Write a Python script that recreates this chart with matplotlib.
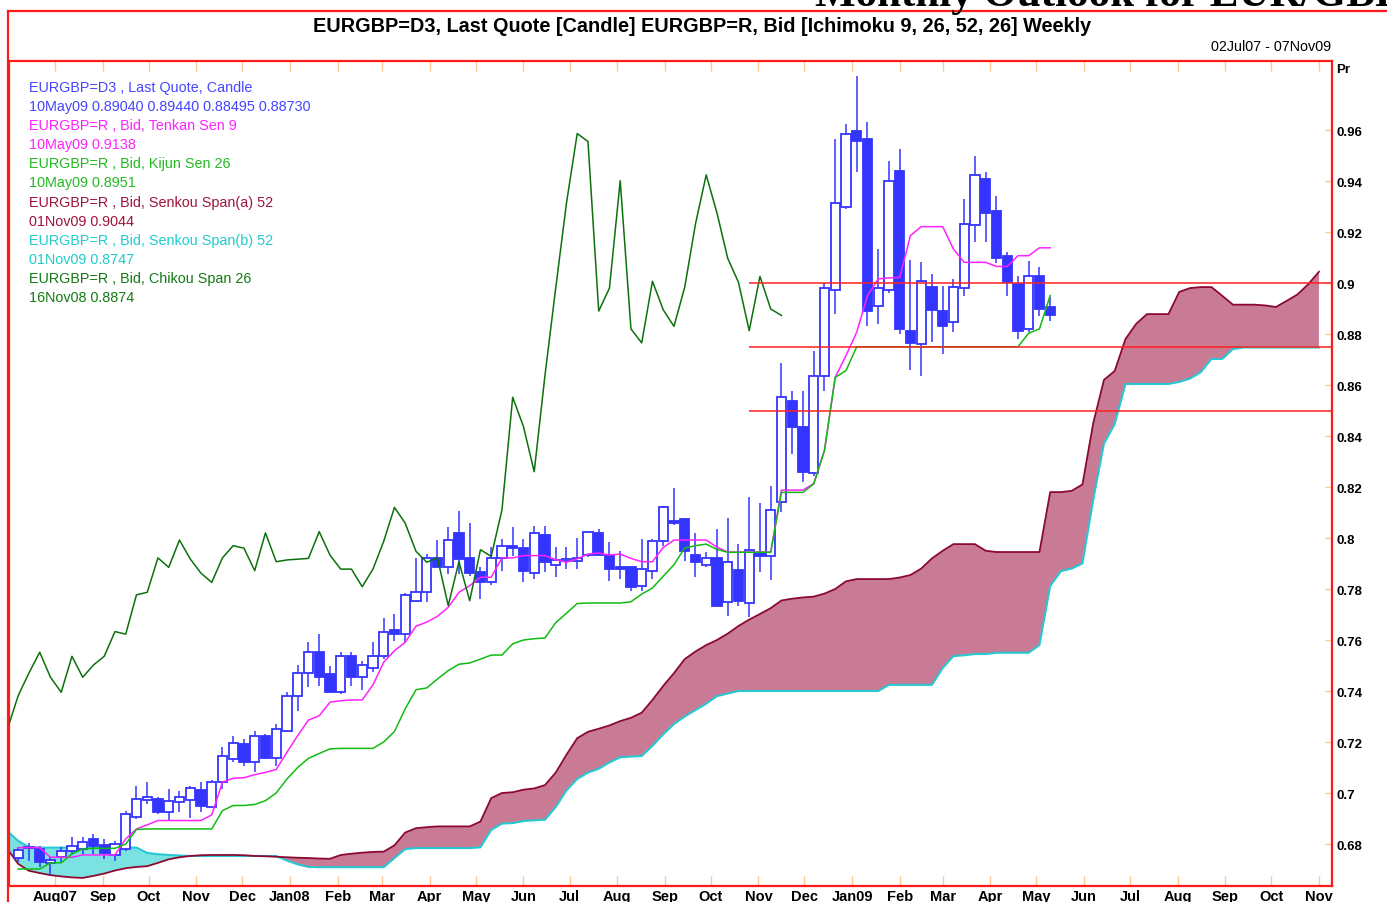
import datetime as dt
import numpy as np
import matplotlib
matplotlib.use("Agg")
import matplotlib.pyplot as plt
import matplotlib.dates as mdates
from matplotlib.lines import Line2D

plt.rcParams['font.family'] = ['Liberation Sans', 'DejaVu Sans']

# ---------------- data ----------------
first_candle = dt.date(2007, 7, 8)      # weekly candles (Sunday dates)
first_cloud = dt.date(2007, 7, 1)       # Senkou spans start one week earlier
chikou_shift_weeks = 25

opens = [0.6745, 0.6787, 0.6781, 0.6726, 0.6748, 0.6774, 0.6781, 0.6820, 0.6796, 0.6757,
         0.6781, 0.6907, 0.6973, 0.6976, 0.6927, 0.6964, 0.6973, 0.7012, 0.6944, 0.7042,
         0.7134, 0.7192, 0.7120, 0.7222, 0.7139, 0.7245, 0.7382, 0.7471, 0.7552, 0.7467,
         0.7395, 0.7536, 0.7456, 0.7489, 0.7536, 0.7640, 0.7623, 0.7754, 0.7787, 0.7922,
         0.7885, 0.8020, 0.7922, 0.7868, 0.7826, 0.7922, 0.7970, 0.7960, 0.7862, 0.8013,
         0.7895, 0.7908, 0.7911, 0.7933, 0.8020, 0.7933, 0.7885, 0.7885, 0.7810, 0.7872,
         0.7987, 0.8068, 0.8075, 0.7934, 0.7896, 0.7922, 0.7750, 0.7876, 0.7745, 0.7940,
         0.7928, 0.8143, 0.8536, 0.8434, 0.8255, 0.8634, 0.8974, 0.9297, 0.9597, 0.9565,
         0.8911, 0.8974, 0.9441, 0.8813, 0.8761, 0.8983, 0.8892, 0.8846, 0.8981, 0.9229,
         0.9408, 0.9284, 0.9107, 0.8996, 0.8820, 0.9029, 0.8904]
highs = [0.6787, 0.6805, 0.6794, 0.6748, 0.6787, 0.6829, 0.6829, 0.6840, 0.6820, 0.6813,
         0.6931, 0.7029, 0.7042, 0.6983, 0.7016, 0.7009, 0.7029, 0.7042, 0.7052, 0.7179,
         0.7225, 0.7212, 0.7245, 0.7232, 0.7271, 0.7398, 0.7502, 0.7594, 0.7624, 0.7500,
         0.7552, 0.7554, 0.7519, 0.7591, 0.7688, 0.7702, 0.7785, 0.7920, 0.7939, 0.7992,
         0.8042, 0.8105, 0.8060, 0.7885, 0.7963, 0.7996, 0.8042, 0.7996, 0.8048, 0.8048,
         0.7963, 0.7963, 0.7999, 0.8029, 0.8035, 0.7983, 0.7950, 0.7885, 0.7996, 0.7996,
         0.8127, 0.8195, 0.8080, 0.8020, 0.7944, 0.8036, 0.8079, 0.7977, 0.8160, 0.8137,
         0.8205, 0.8686, 0.8578, 0.8578, 0.8735, 0.9000, 0.9565, 0.9623, 0.9813, 0.9633,
         0.9133, 0.9480, 0.9525, 0.9092, 0.9081, 0.9035, 0.8990, 0.9016, 0.9329, 0.9497,
         0.9434, 0.9343, 0.9120, 0.9029, 0.9088, 0.9062, 0.8944]
lows = [0.6728, 0.6735, 0.6711, 0.6679, 0.6728, 0.6755, 0.6761, 0.6761, 0.6742, 0.6735,
        0.6774, 0.6898, 0.6957, 0.6918, 0.6892, 0.6924, 0.6901, 0.6924, 0.6944, 0.7016,
        0.7121, 0.7107, 0.7081, 0.7134, 0.7107, 0.7240, 0.7320, 0.7414, 0.7420, 0.7395,
        0.7389, 0.7420, 0.7402, 0.7476, 0.7526, 0.7597, 0.7591, 0.7748, 0.7748, 0.7885,
        0.7859, 0.7859, 0.7852, 0.7761, 0.7816, 0.7872, 0.7931, 0.7829, 0.7839, 0.7865,
        0.7846, 0.7878, 0.7878, 0.7924, 0.7931, 0.7833, 0.7839, 0.7793, 0.7793, 0.7839,
        0.7970, 0.8050, 0.7911, 0.7846, 0.7885, 0.7735, 0.7696, 0.7735, 0.7690, 0.7866,
        0.7837, 0.8103, 0.8330, 0.8221, 0.8245, 0.8578, 0.8880, 0.9290, 0.9434, 0.8833,
        0.8839, 0.8960, 0.8800, 0.8657, 0.8637, 0.8767, 0.8722, 0.8807, 0.8950, 0.9159,
        0.9159, 0.9080, 0.8950, 0.8780, 0.8807, 0.8872, 0.88495]
closes = [0.6776, 0.6783, 0.6731, 0.6739, 0.6774, 0.6794, 0.6809, 0.6791, 0.6765, 0.6800,
          0.6918, 0.6976, 0.6983, 0.6924, 0.6970, 0.6983, 0.7020, 0.6950, 0.7042, 0.7144,
          0.7196, 0.7123, 0.7224, 0.7139, 0.7251, 0.7382, 0.7471, 0.7552, 0.7454, 0.7395,
          0.7536, 0.7454, 0.7502, 0.7536, 0.7633, 0.7623, 0.7777, 0.7787, 0.7922, 0.7885,
          0.7992, 0.7918, 0.7862, 0.7826, 0.7922, 0.7970, 0.7960, 0.7872, 0.8020, 0.7907,
          0.7914, 0.7917, 0.7920, 0.8025, 0.7933, 0.7878, 0.7878, 0.7809, 0.7878, 0.7987,
          0.8120, 0.8058, 0.7948, 0.7905, 0.7922, 0.7735, 0.7907, 0.7754, 0.7954, 0.7928,
          0.8110, 0.8552, 0.8437, 0.8260, 0.8637, 0.8980, 0.9313, 0.9586, 0.9555, 0.8890,
          0.8980, 0.9401, 0.8820, 0.8765, 0.9007, 0.8895, 0.8830, 0.8983, 0.9231, 0.9424,
          0.9275, 0.9097, 0.9003, 0.8813, 0.9026, 0.8898, 0.8873]

tenkan = [0.6786, 0.6786, 0.6786, 0.6748, 0.6748, 0.6748, 0.6757, 0.6757, 0.6757, 0.6757,
          0.6820, 0.6859, 0.6875, 0.6892, 0.6892, 0.6892, 0.6892, 0.6892, 0.6914, 0.7042,
          0.7058, 0.7060, 0.7072, 0.7081, 0.7092, 0.7160, 0.7225, 0.7286, 0.7303, 0.7356,
          0.7362, 0.7365, 0.7365, 0.7424, 0.7513, 0.7558, 0.7591, 0.7654, 0.7670, 0.7693,
          0.7728, 0.7787, 0.7813, 0.7846, 0.7846, 0.7922, 0.7922, 0.7931, 0.7931, 0.7931,
          0.7915, 0.7905, 0.7918, 0.7937, 0.7941, 0.7933, 0.7937, 0.7920, 0.7907, 0.7907,
          0.7963, 0.7992, 0.7992, 0.7992, 0.7992, 0.7964, 0.7945, 0.7945, 0.7945, 0.7945,
          0.7945, 0.8188, 0.8188, 0.8188, 0.8213, 0.8343, 0.8630, 0.8715, 0.8807, 0.8950,
          0.9016, 0.9020, 0.9022, 0.9186, 0.9221, 0.9221, 0.9221, 0.9133, 0.9081, 0.9081,
          0.9081, 0.9065, 0.9065, 0.9107, 0.9107, 0.9138, 0.9138]
kijun = [0.6702, 0.6702, 0.6702, 0.6726, 0.6726, 0.6761, 0.6781, 0.6783, 0.6783, 0.6783,
         0.6800, 0.6857, 0.6859, 0.6859, 0.6859, 0.6859, 0.6859, 0.6859, 0.6859, 0.6931,
         0.6951, 0.6951, 0.6955, 0.6970, 0.7000, 0.7055, 0.7100, 0.7136, 0.7155, 0.7173,
         0.7175, 0.7175, 0.7175, 0.7175, 0.7200, 0.7241, 0.7330, 0.7405, 0.7412, 0.7447,
         0.7480, 0.7505, 0.7510, 0.7525, 0.7541, 0.7541, 0.7585, 0.7600, 0.7605, 0.7608,
         0.7668, 0.7705, 0.7743, 0.7745, 0.7745, 0.7745, 0.7745, 0.7750, 0.7780, 0.7804,
         0.7850, 0.7895, 0.7961, 0.7970, 0.7976, 0.7955, 0.7944, 0.7944, 0.7944, 0.7944,
         0.7944, 0.8179, 0.8179, 0.8179, 0.8212, 0.8343, 0.8630, 0.8656, 0.8750, 0.8750,
         0.8750, 0.8750, 0.8750, 0.8750, 0.8750, 0.8750, 0.8750, 0.8750, 0.8750, 0.8750,
         0.8750, 0.8750, 0.8750, 0.8750, 0.8803, 0.8820, 0.8951]
senkou_a = [0.6780, 0.6722, 0.6695, 0.6686, 0.6678, 0.6673, 0.6669, 0.6667, 0.6675, 0.6684,
            0.6696, 0.6705, 0.6710, 0.6713, 0.6726, 0.6740, 0.6748, 0.6753, 0.6756, 0.6757,
            0.6757, 0.6757, 0.6756, 0.6753, 0.6752, 0.6750, 0.6748, 0.6746, 0.6745, 0.6743,
            0.6742, 0.6757, 0.6762, 0.6766, 0.6769, 0.6770, 0.6795, 0.6845, 0.6862, 0.6866,
            0.6869, 0.6869, 0.6869, 0.6869, 0.6888, 0.6980, 0.7000, 0.7003, 0.7013, 0.7018,
            0.7031, 0.7080, 0.7150, 0.7215, 0.7240, 0.7252, 0.7265, 0.7282, 0.7295, 0.7315,
            0.7365, 0.7420, 0.7470, 0.7525, 0.7555, 0.7580, 0.7600, 0.7625, 0.7655, 0.7680,
            0.7702, 0.7725, 0.7755, 0.7762, 0.7767, 0.7770, 0.7782, 0.7800, 0.7830, 0.7839,
            0.7839, 0.7839, 0.7839, 0.7845, 0.7855, 0.7880, 0.7920, 0.7950, 0.7976, 0.7976,
            0.7976, 0.7950, 0.7945, 0.7945, 0.7945, 0.7945, 0.7945, 0.8180, 0.8180, 0.8185,
            0.8210, 0.8450, 0.8620, 0.8655, 0.8780, 0.8840, 0.8878, 0.8878, 0.8878, 0.8965,
            0.8980, 0.8984, 0.8984, 0.8950, 0.8915, 0.8915, 0.8915, 0.8912, 0.8906, 0.8930,
            0.8955, 0.8995, 0.9044]
senkou_b = [0.6850, 0.6812, 0.6788, 0.6786, 0.6786, 0.6786, 0.6786, 0.6786, 0.6786, 0.6786,
            0.6786, 0.6786, 0.6786, 0.6765, 0.6760, 0.6757, 0.6755, 0.6753, 0.6753, 0.6753,
            0.6753, 0.6753, 0.6753, 0.6753, 0.6753, 0.6753, 0.6735, 0.6720, 0.6710, 0.6709,
            0.6709, 0.6709, 0.6709, 0.6709, 0.6709, 0.6709, 0.6745, 0.6780, 0.6784, 0.6784,
            0.6784, 0.6784, 0.6784, 0.6784, 0.6787, 0.6855, 0.6880, 0.6882, 0.6890, 0.6893,
            0.6895, 0.6945, 0.7010, 0.7055, 0.7080, 0.7095, 0.7120, 0.7140, 0.7143, 0.7145,
            0.7185, 0.7230, 0.7270, 0.7300, 0.7325, 0.7350, 0.7380, 0.7390, 0.7400, 0.7400,
            0.7400, 0.7400, 0.7400, 0.7400, 0.7400, 0.7400, 0.7400, 0.7400, 0.7400, 0.7400,
            0.7400, 0.7400, 0.7424, 0.7424, 0.7424, 0.7424, 0.7424, 0.7490, 0.7537, 0.7540,
            0.7545, 0.7545, 0.7550, 0.7550, 0.7550, 0.7550, 0.7580, 0.7812, 0.7870, 0.7880,
            0.7900, 0.8150, 0.8370, 0.8447, 0.8604, 0.8604, 0.8604, 0.8604, 0.8604, 0.8612,
            0.8625, 0.8650, 0.8702, 0.8702, 0.8741, 0.8747, 0.8747, 0.8747, 0.8747, 0.8747,
            0.8747, 0.8747, 0.8747]

ref_levels = [0.90, 0.875, 0.85]
ref_start = dt.date(2008, 10, 26)

y_ticks = [0.68, 0.70, 0.72, 0.74, 0.76, 0.78, 0.80, 0.82, 0.84, 0.86, 0.88, 0.90, 0.92, 0.94, 0.96]
y_tick_labels = ['0.68', '0.7', '0.72', '0.74', '0.76', '0.78', '0.8', '0.82', '0.84', '0.86',
                 '0.88', '0.9', '0.92', '0.94', '0.96']
month_labels = ['Aug07', 'Sep', 'Oct', 'Nov', 'Dec', 'Jan08', 'Feb', 'Mar', 'Apr', 'May', 'Jun',
                'Jul', 'Aug', 'Sep', 'Oct', 'Nov', 'Dec', 'Jan09', 'Feb', 'Mar', 'Apr', 'May',
                'Jun', 'Jul', 'Aug', 'Sep', 'Oct', 'Nov']

legend_lines = [
    ("EURGBP=D3 , Last Quote, Candle", '#4646ff'),
    ("10May09 0.89040 0.89440 0.88495 0.88730", '#4646ff'),
    ("EURGBP=R , Bid, Tenkan Sen 9", '#ff22ff'),
    ("10May09 0.9138", '#ff22ff'),
    ("EURGBP=R , Bid, Kijun Sen 26", '#22bb22'),
    ("10May09 0.8951", '#22bb22'),
    ("EURGBP=R , Bid, Senkou Span(a) 52", '#a0143c'),
    ("01Nov09 0.9044", '#a0143c'),
    ("EURGBP=R , Bid, Senkou Span(b) 52", '#22cccc'),
    ("01Nov09 0.8747", '#22cccc'),
    ("EURGBP=R , Bid, Chikou Span 26", '#147a14'),
    ("16Nov08 0.8874", '#147a14'),
]

title = "EURGBP=D3, Last Quote [Candle] EURGBP=R, Bid [Ichimoku 9, 26, 52, 26] Weekly"
date_range = "02Jul07 - 07Nov09"
header = "Monthly Outlook for EUR/GBP"

# ---------------- figure ----------------
W, H = 1387, 903
fig = plt.figure(figsize=(W / 100, H / 100), dpi=100)
L, R, T, B = 9, 1332, 62, 887
ax = fig.add_axes([L / W, (H - B) / H, (R - L) / W, (B - T) / H])

n = len(opens)
cdates = mdates.date2num([first_candle + dt.timedelta(weeks=i) for i in range(n)])
kdates = mdates.date2num([first_cloud + dt.timedelta(weeks=i) for i in range(len(senkou_a))])
chik_vals = closes[chikou_shift_weeks - 1:]
chik_dates = mdates.date2num([first_cloud + dt.timedelta(weeks=i) for i in range(len(chik_vals))])

sa = np.array(senkou_a)
sb = np.array(senkou_b)
ax.fill_between(kdates, sa, sb, where=sa >= sb, interpolate=True, color='#c97b96', lw=0, zorder=1)
ax.fill_between(kdates, sa, sb, where=sa < sb, interpolate=True, color='#7ae2e0', lw=0, zorder=1)
ax.plot(kdates, sb, color='#28c8d2', lw=1.5, zorder=2)
ax.plot(kdates, sa, color='#8c0a32', lw=1.3, zorder=2)

# candles
blue = '#3434ff'
o = np.array(opens); c = np.array(closes)
up = c >= o
ax.vlines(cdates, lows, highs, color=blue, lw=1.1, zorder=4)
ax.bar(cdates, np.abs(c - o), bottom=np.minimum(o, c), width=6.0,
       color=np.where(up, 'white', blue), edgecolor=blue, linewidth=1.3, zorder=5)

# ichimoku lines
ax.plot(cdates, tenkan, color='#ff22ff', lw=1.1, zorder=6)
ax.plot(cdates, kijun, color='#11bb11', lw=1.1, zorder=6)
ax.plot(chik_dates, chik_vals, color='#0c700c', lw=1.1, zorder=6)

# reference lines (drawn above the indicator lines)
xmax_date = mdates.date2num(dt.datetime(2009, 11, 9, 12))
ax.hlines(ref_levels, mdates.date2num(ref_start), xmax_date, color='#ff2020', lw=1.1, zorder=7)

# axes
ax.set_xlim(mdates.date2num(dt.datetime(2007, 7, 2)), xmax_date)
ax.set_ylim(0.66353, 0.98706)
months = []
y_, m_ = 2007, 8
for lab in month_labels:
    months.append(mdates.date2num(dt.date(y_, m_, 1)))
    m_ += 1
    if m_ > 12:
        m_ = 1; y_ += 1
ax.set_xticks(months)
ax.set_xticklabels(month_labels, fontsize=10.5, fontweight='bold')
ax.set_yticks(y_ticks)
ax.set_yticklabels(y_tick_labels, fontsize=9.5, fontweight='bold')
ax.yaxis.tick_right()
ax.tick_params(axis='x', direction='in', length=7, width=1, color='#ffc890', top=True, pad=2)
ax.tick_params(axis='y', direction='in', length=5, width=1, color='#ffc890', left=False,
               right=True, pad=3)
for s in ax.spines.values():
    s.set_color('#ff1a1a')
    s.set_linewidth(1.6)

# texts
fig.text(702 / W, 1 - 26 / H, title, ha='center', va='center', fontsize=14.3, fontweight='bold')
fig.text(1331 / W, 1 - 47 / H, date_range, ha='right', va='center', fontsize=10.4)
fig.text(1336 / W, 1 - 70 / H, 'Pr', ha='left', va='center', fontsize=9.5, fontweight='bold')
fig.text(815 / W, 1 - 6 / H, header, ha='left', va='baseline', fontsize=31, fontweight='bold',
         family='Liberation Serif')
for i, (s, col) in enumerate(legend_lines):
    yy = 88 + i * 19.1
    fig.text(29 / W, 1 - yy / H, s, color=col, fontsize=10.4, va='center')

# outer frame
fig.add_artist(Line2D([8 / W, 1.0], [1 - 12 / H, 1 - 12 / H], color='#ff1a1a', lw=1.6,
                      transform=fig.transFigure))
fig.add_artist(Line2D([8 / W, 8 / W], [0, 1 - 12 / H], color='#ff1a1a', lw=1.6,
                      transform=fig.transFigure))

fig.savefig('out.png', dpi=100)
